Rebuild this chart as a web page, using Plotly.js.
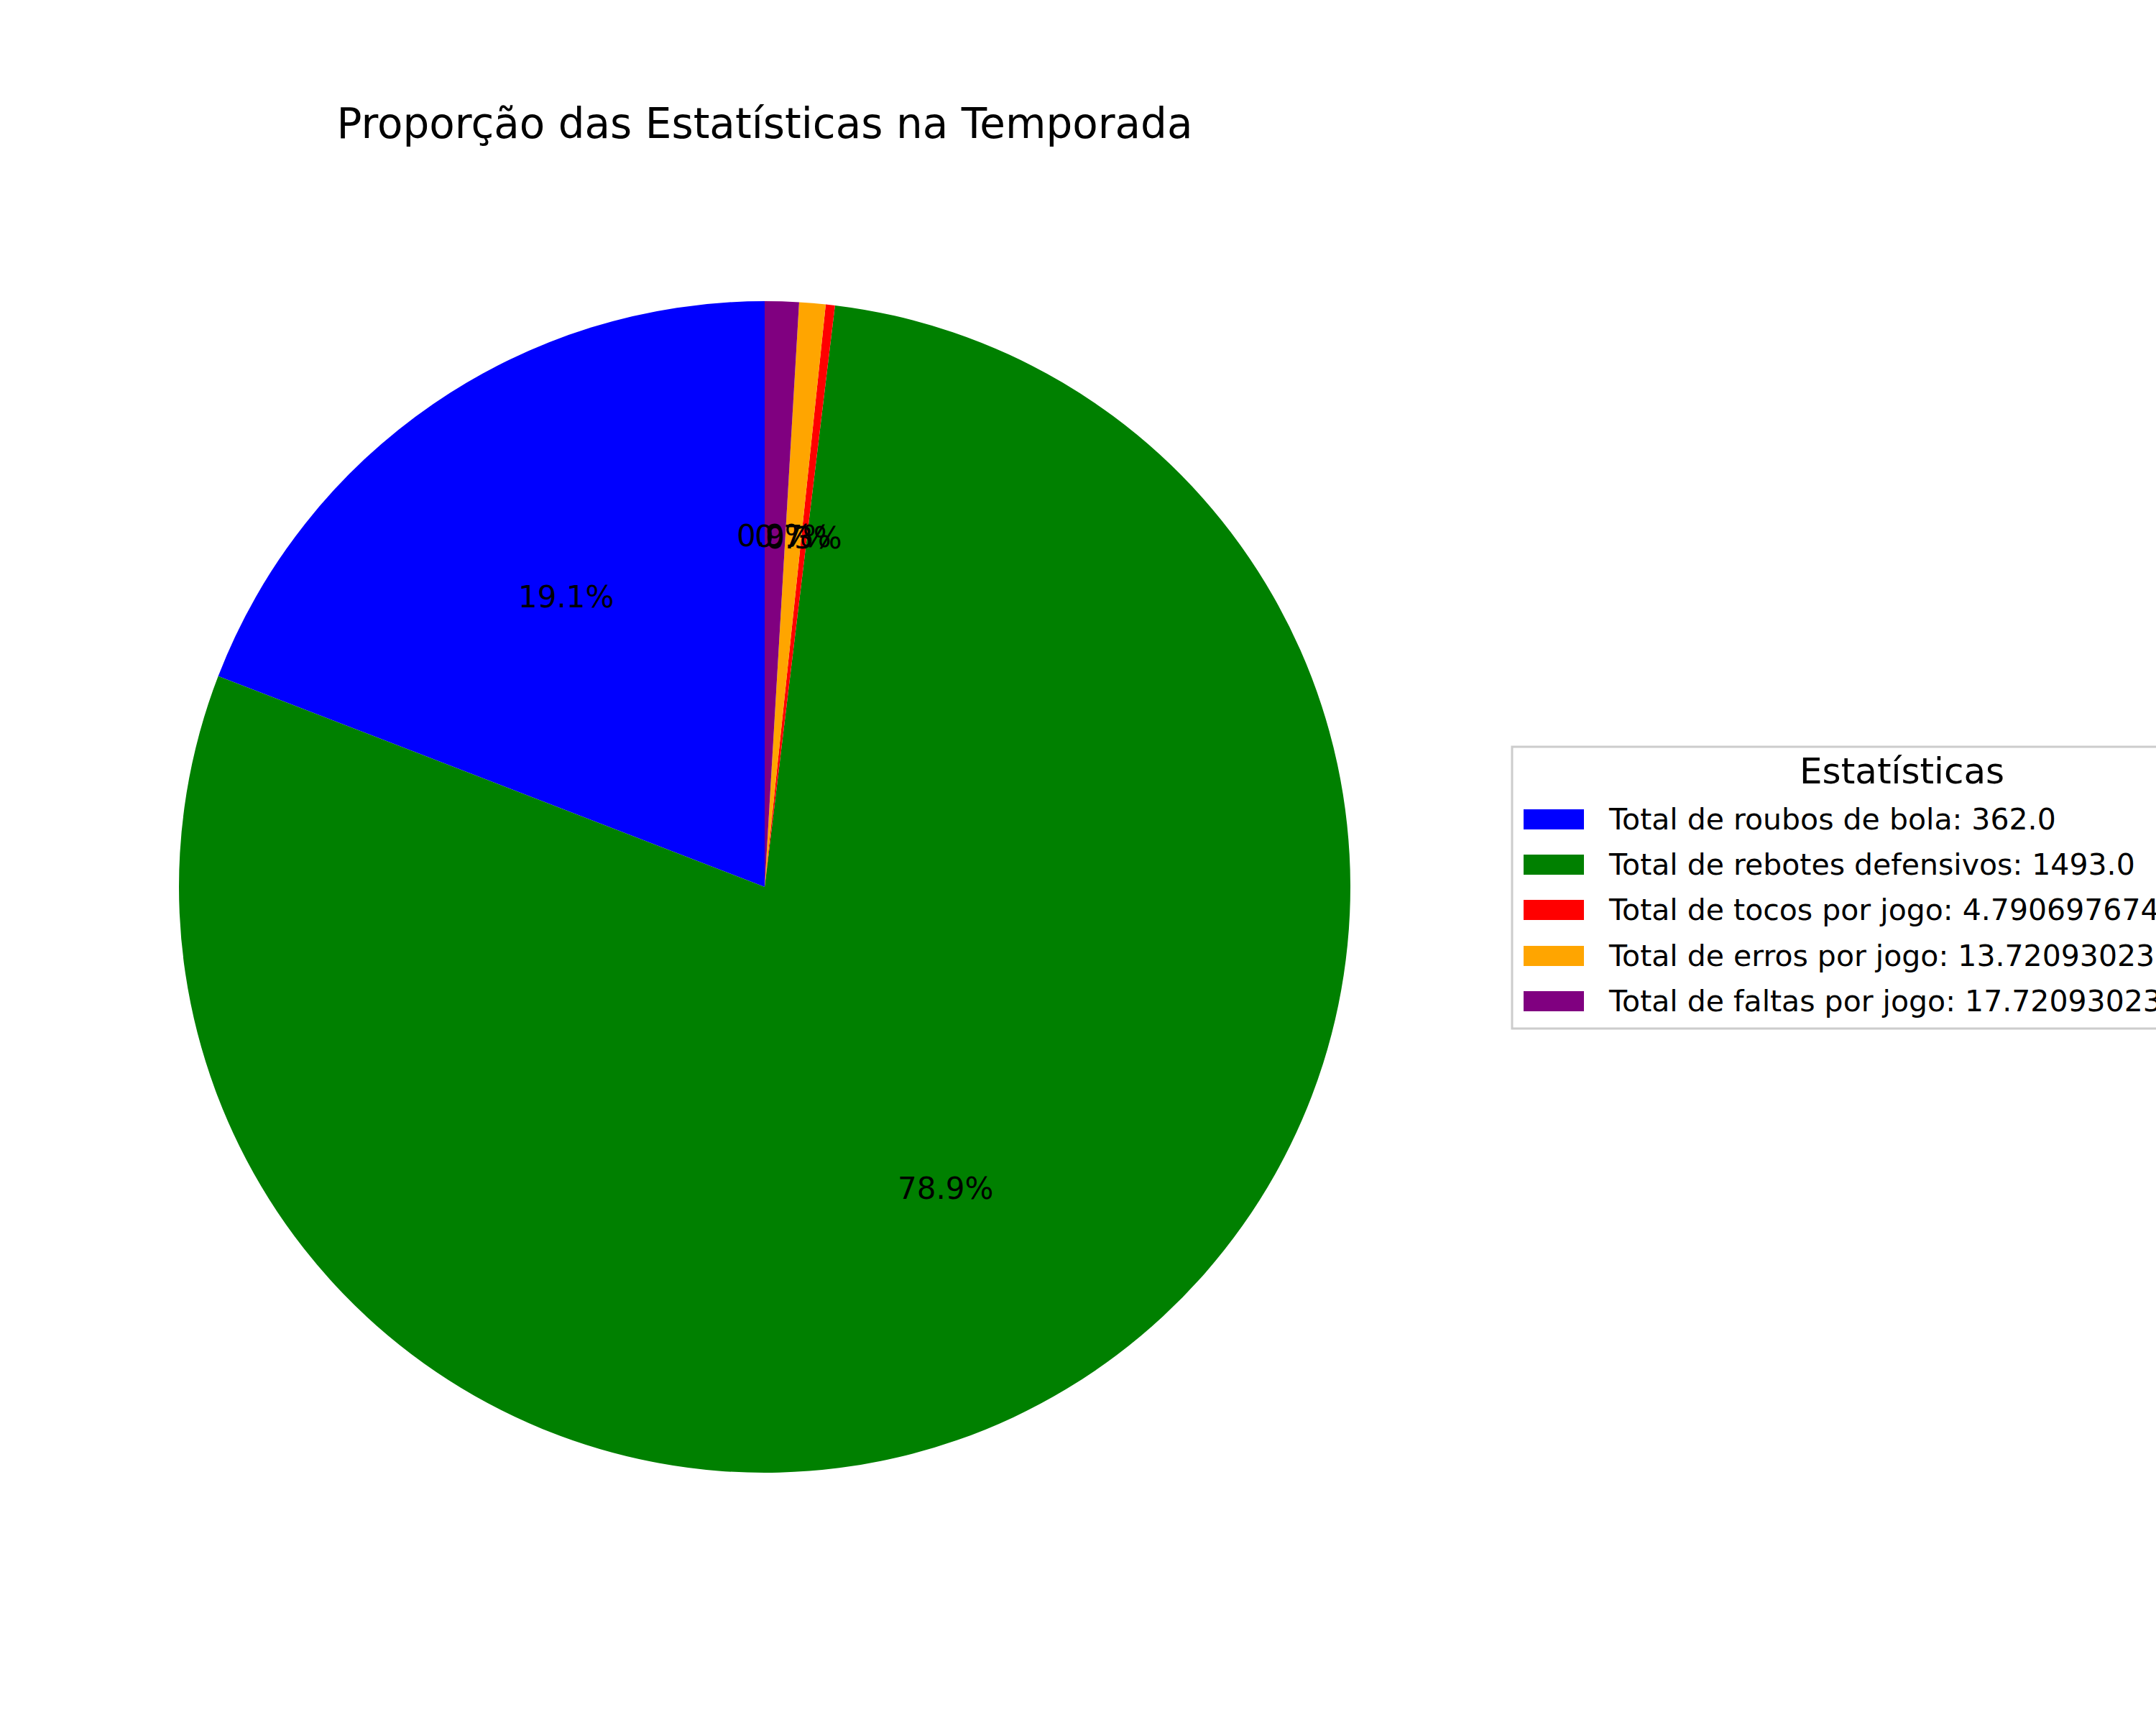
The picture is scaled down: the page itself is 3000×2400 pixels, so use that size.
<!DOCTYPE html>
<html><head><meta charset="utf-8">
<script src="https://cdn.plot.ly/plotly-3.0.1.min.js"></script>
<style>body{margin:0}</style></head>
<body><div id="c" style="width:3000px;height:2400px"></div>
<script>
const labels = ["Total de roubos de bola", "Total de rebotes defensivos", "Total de tocos por jogo", "Total de erros por jogo", "Total de faltas por jogo"];
const values = [362.0, 1493.0, 4.790697674418604, 13.720930232558139, 17.720930232558139];
const valueText = ["362.0", "1493.0", "4.790697674418604", "13.720930232558139", "17.720930232558139"];
const colors = ["blue", "green", "red", "orange", "purple"];

const W = 3000, H = 2400, cx = 1064, cy = 1234, R = 815;
const font = "DejaVu Sans, sans-serif";
const total = values.reduce((a, b) => a + b, 0);
const annotations = [], shapes = [];
let cum = 0;
values.forEach((v, i) => {
  const mid = (cum + v / 2) / total;
  cum += v;
  const th = (90 + mid * 360) * Math.PI / 180;
  const px = cx + 0.6 * R * Math.cos(th), py = cy - 0.6 * R * Math.sin(th);
  annotations.push({xref: "paper", yref: "paper", x: px / W, y: 1 - py / H, showarrow: false,
    text: (v / total * 100).toFixed(1) + "%", font: {family: font, size: 42, color: "black"},
    xanchor: "center", yanchor: "middle"});
});
shapes.push({type: "rect", xref: "paper", yref: "paper", x0: 2104 / W, x1: 3100 / W, y0: 1 - 1431 / H, y1: 1 - 1039 / H,
  line: {color: "#cccccc", width: 3}, fillcolor: "rgba(255,255,255,0.8)", layer: "above"});
annotations.push({xref: "paper", yref: "paper", x: 2646 / W, y: 1 - 1073 / H, showarrow: false, text: "Estatísticas",
  font: {family: font, size: 50, color: "black"}, xanchor: "center", yanchor: "middle"});
const rows = [1140, 1203, 1266, 1330, 1393];
labels.forEach((l, i) => {
  shapes.push({type: "rect", xref: "paper", yref: "paper", x0: 2120 / W, x1: 2204 / W,
    y0: 1 - (rows[i] + 14) / H, y1: 1 - (rows[i] - 14) / H, fillcolor: colors[i], line: {width: 0}, layer: "above"});
  annotations.push({xref: "paper", yref: "paper", x: 2236 / W, y: 1 - rows[i] / H, showarrow: false,
    text: l + ": " + valueText[i],
    font: {family: font, size: 41, color: "black"}, xanchor: "left", yanchor: "middle"});
});

Plotly.newPlot("c", [{
  type: "pie", labels: labels, values: values, sort: false, direction: "counterclockwise",
  rotation: -(values[0] / total) * 360,
  marker: {colors: colors, line: {width: 0}}, textinfo: "none", hoverinfo: "none",
  domain: {x: [(cx - R) / W, (cx + R) / W], y: [1 - (cy + R) / H, 1 - (cy - R) / H]}
}], {
  width: W, height: H, margin: {l: 0, r: 0, t: 0, b: 0}, showlegend: false,
  paper_bgcolor: "white",
  title: {text: "Proporção das Estatísticas na Temporada", x: 1064 / W, xanchor: "center", y: 1 - 172 / H, yanchor: "middle",
    font: {family: font, size: 58, color: "black"}},
  annotations: annotations, shapes: shapes
}, {staticPlot: true});
</script></body></html>
